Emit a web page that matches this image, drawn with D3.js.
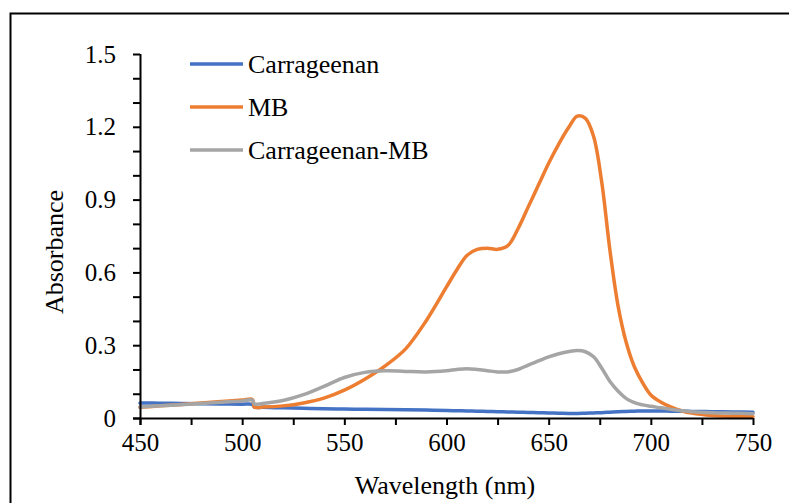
<!DOCTYPE html>
<html><head><meta charset="utf-8">
<script src="https://cdn.jsdelivr.net/npm/d3@7"></script>
<style>body{margin:0;background:#fff}svg{display:block}</style>
</head><body>
<svg id="c" width="789" height="503"></svg>
<script>
const wavelengths = [450,460,470,480,490,500,505,506,510,520,530,540,550,560,570,580,590,600,605,610,615,620,625,630,635,640,645,650,655,660,664,668,672,676,680,684,688,692,696,700,705,710,715,720,730,740,750];
const carrageenan = [0.062,0.061,0.060,0.059,0.058,0.057,0.056,0.045,0.044,0.042,0.040,0.038,0.037,0.036,0.035,0.034,0.033,0.031,0.030,0.029,0.028,0.027,0.026,0.025,0.024,0.023,0.022,0.021,0.020,0.019,0.019,0.020,0.021,0.022,0.024,0.026,0.027,0.028,0.029,0.029,0.029,0.028,0.028,0.027,0.026,0.025,0.024];
const mb = [0.044,0.050,0.056,0.062,0.068,0.074,0.077,0.045,0.045,0.050,0.062,0.082,0.115,0.160,0.215,0.285,0.40,0.54,0.61,0.67,0.695,0.70,0.695,0.71,0.78,0.87,0.96,1.05,1.13,1.20,1.244,1.235,1.16,0.97,0.69,0.46,0.31,0.21,0.145,0.095,0.065,0.045,0.03,0.02,0.01,0.006,0.005];
const carrageenanMB = [0.045,0.050,0.055,0.060,0.065,0.070,0.074,0.058,0.060,0.072,0.096,0.130,0.167,0.188,0.195,0.192,0.190,0.195,0.200,0.203,0.200,0.195,0.190,0.190,0.200,0.218,0.235,0.252,0.265,0.274,0.278,0.273,0.252,0.205,0.15,0.11,0.08,0.063,0.054,0.048,0.042,0.035,0.03,0.026,0.022,0.02,0.018];
const seriesNames = ["Carrageenan","MB","Carrageenan-MB"];
const seriesColors = ["#4472C4","#ED7D31","#A5A5A5"];
const xTicks = [450,500,550,600,650,700,750];
const yTicks = [0,0.3,0.6,0.9,1.2,1.5];

const svg = d3.select("#c");
const font = "'Liberation Serif','Times New Roman',serif";
svg.append("rect").attr("x",10.5).attr("y",13.5).attr("width",800).attr("height",600)
  .attr("fill","none").attr("stroke","#000").attr("stroke-width",2);

const x = d3.scaleLinear().domain([450,750]).range([140,753]);
const y = d3.scaleLinear().domain([0,1.5]).range([418,54]);

const series = [carrageenan, mb, carrageenanMB];
const line = d3.line().x(d=>x(d[0])).y(d=>y(d[1])).curve(d3.curveCatmullRom.alpha(0.5));
series.forEach((s,i)=>{
  svg.append("path").datum(wavelengths.map((w,j)=>[w,s[j]]))
    .attr("d",line).attr("fill","none").attr("stroke",seriesColors[i])
    .attr("stroke-width",3.5).attr("stroke-linejoin","round").attr("stroke-linecap","round");
});

// x axis
const xa = svg.append("g").attr("transform","translate(0,418)")
  .call(d3.axisBottom(x).tickValues(d3.range(450,751,25)).tickSize(7).tickFormat(d=>xTicks.includes(d)?d:""));
xa.select(".domain").attr("d","M133,0.5H753").attr("stroke","#000").attr("stroke-width",2);
xa.selectAll(".tick line").attr("stroke","#000").attr("stroke-width",2);
xa.selectAll("text").attr("font-family",font).attr("font-size",25).attr("fill","#000").attr("dy","0.92em");

// y axis
const ya = svg.append("g").attr("transform","translate(140,0)")
  .call(d3.axisLeft(y).tickValues(d3.range(0,16).map(d=>d/10)).tickSize(7)
    .tickFormat(d=>{const r=Math.round(d*10);return r%3===0?(r===0?"0":d3.format(".1f")(r/10)):"";}));
ya.select(".domain").attr("d","M0.5,54V425").attr("stroke","#000").attr("stroke-width",2);
ya.selectAll(".tick line").attr("stroke","#000").attr("stroke-width",2);
ya.selectAll("text").attr("font-family",font).attr("font-size",25).attr("fill","#000").attr("dx",-14);

svg.append("text").attr("x",445).attr("y",494).attr("text-anchor","middle")
  .attr("font-family",font).attr("font-size",26).text("Wavelength (nm)");
svg.append("text").attr("transform","translate(63,252) rotate(-90)").attr("text-anchor","middle")
  .attr("font-family",font).attr("font-size",26).text("Absorbance");

// legend
const lg = svg.append("g");
seriesNames.forEach((n,i)=>{
  const yy = 64 + i*43;
  lg.append("line").attr("x1",190).attr("x2",243).attr("y1",yy).attr("y2",yy)
    .attr("stroke",seriesColors[i]).attr("stroke-width",3.5);
  lg.append("text").attr("x",248).attr("y",yy+9).attr("font-family",font).attr("font-size",26).text(n);
});
</script>
</body></html>
